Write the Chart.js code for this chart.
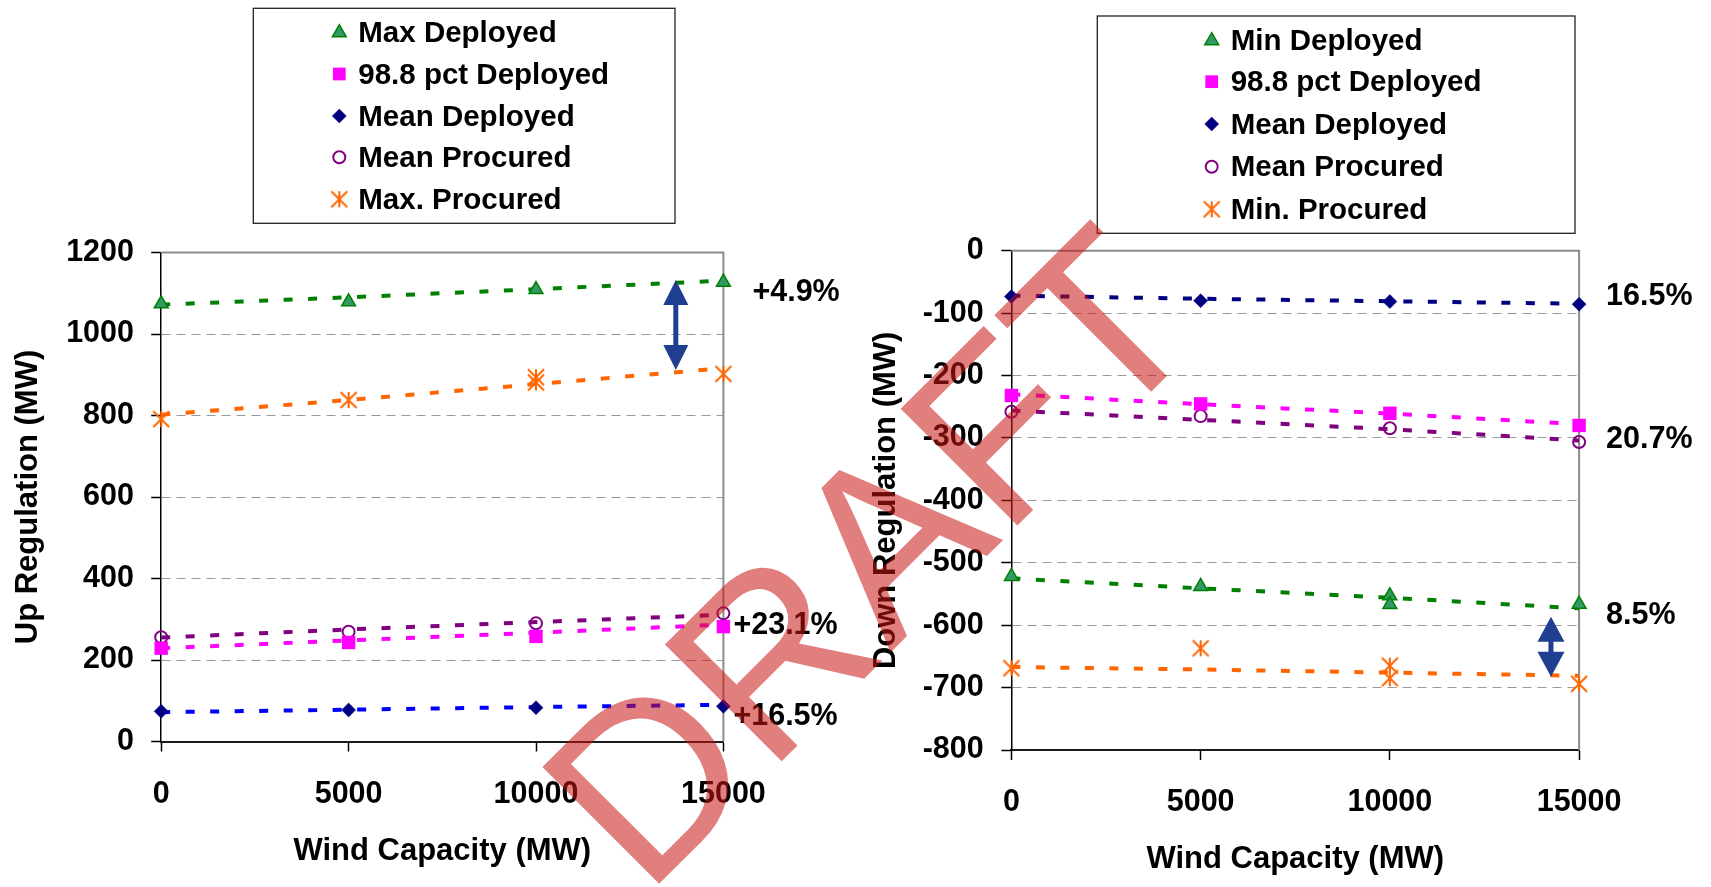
<!DOCTYPE html>
<html>
<head>
<meta charset="utf-8">
<title>Regulation requirements vs wind capacity</title>
<script src="https://cdn.jsdelivr.net/npm/chart.js@4.4.1/dist/chart.umd.min.js"></script>
<style>
  html, body { margin: 0; padding: 0; background: #fff; }
  #wrap { position: relative; width: 1711px; height: 887px; overflow: hidden; }
  #wrap canvas { position: absolute; left: 0; top: 0; }
</style>
</head>
<body>
<div id="wrap">
  <canvas id="upChart" width="1711" height="887"></canvas>
  <canvas id="downChart" width="1711" height="887"></canvas>
</div>
<script>
// ---- Wind capacity scenarios (MW) ----
const windCapacity = [0, 5000, 10000, 15000];
const xTickLabels = ['0', '5000', '10000', '15000'];

// ---- Up regulation (MW) ----
const upTicks = [0, 200, 400, 600, 800, 1000, 1200];
const upMaxDeployed = [1074, 1079, 1109, 1127];
const up988Deployed = [229, 243, 258, 282];
const upMeanDeployed = [74, 77.5, 83, 86.2];
const upMeanProcured = [256, 269.5, 290, 314.5];
const upMaxProcuredWind = [0, 5000, 10000, 10000, 15000];
const upMaxProcured = [791, 838, 894, 881, 902];
// dashed trend lines
const upMaxDeployedLine = [1072, 1090, 1110, 1131];
const upMaxProcuredLine = [802, 838, 877, 916];
const up988DeployedLine = [229, 248, 267, 287];
const upMeanProcuredLine = [255, 275, 293, 311];
const upMeanDeployedLine = [72, 78, 84.5, 90];
const upChangeLabels = ['+4.9%', '+23.1%', '+16.5%'];

// ---- Down regulation (MW) ----
const downTicks = [-800, -700, -600, -500, -400, -300, -200, -100, 0];
const downMinDeployedWind = [0, 5000, 10000, 10000, 15000];
const downMinDeployed = [-522, -538, -553, -567, -566.5];
const down988Deployed = [-232, -245.5, -260.5, -280];
const downMeanDeployed = [-73.5, -80, -81.5, -85.6];
const downMeanProcured = [-258, -265, -284.5, -306.5];
const downMinProcuredWind = [0, 5000, 10000, 10000, 15000];
const downMinProcured = [-669, -637, -665, -685, -694];
// dashed trend lines
const downMinDeployedLine = [-525, -541, -556, -573];
const downMinProcuredLine = [-667, -671, -676, -681];
const down988DeployedLine = [-230, -246, -261, -278];
const downMeanProcuredLine = [-256, -271, -286, -304];
const downMeanDeployedLine = [-72, -77, -81, -85];
const downChangeLabels = ['16.5%', '20.7%', '8.5%'];

// ---------------------------------------------------------------
const FONT = "'Liberation Sans', Arial, Helvetica, sans-serif";
Chart.defaults.font.family = FONT;
Chart.defaults.color = '#000';

const xy = (xs, ys) => ys.map((y, i) => ({ x: xs[i], y }));

// Six-armed asterisk marker (X plus a vertical bar)
function makeAsterisk(color, size, lw) {
  const c = document.createElement('canvas');
  c.width = c.height = size + 4;
  const g = c.getContext('2d');
  const m = c.width / 2, h = size / 2;
  g.strokeStyle = color;
  g.lineWidth = lw;
  g.beginPath();
  g.moveTo(m - h, m - h); g.lineTo(m + h, m + h);
  g.moveTo(m + h, m - h); g.lineTo(m - h, m + h);
  g.moveTo(m, m - h); g.lineTo(m, m + h);
  g.stroke();
  return c;
}
const asterisk = makeAsterisk('#FF6600', 16, 2);

const MARK = {
  triangle: { pointStyle: 'triangle', pointRadius: 8, pointBackgroundColor: '#339966', pointBorderColor: '#008000', pointBorderWidth: 1.5 },
  square:   { pointStyle: 'rect', pointRadius: 9.5, pointBackgroundColor: '#FF00FF', pointBorderColor: '#FF00FF', pointBorderWidth: 0 },
  diamond:  { pointStyle: 'rectRot', pointRadius: 7, pointBackgroundColor: '#000080', pointBorderColor: '#000080', pointBorderWidth: 0.5 },
  circle:   { pointStyle: 'circle', pointRadius: 6, pointBackgroundColor: 'rgba(0,0,0,0)', pointBorderColor: '#800080', pointBorderWidth: 2 },
  star:     { pointStyle: asterisk, pointRadius: 8, pointBackgroundColor: '#FF6600', pointBorderColor: '#FF6600', pointBorderWidth: 0 }
};

function markers(label, xs, ys, style) {
  return Object.assign({ label, data: xy(xs, ys), showLine: false, clip: false, borderColor: style.pointBorderColor, backgroundColor: style.pointBackgroundColor }, style);
}
function trend(ys, color) {
  return { label: '', data: xy(windCapacity, ys), showLine: true, pointRadius: 0, borderColor: color,
           borderWidth: 4, borderDash: [9, 15.5], clip: false, fill: false, tension: 0 };
}

// Marker glyph used inside the boxed legend
function drawGlyph(ctx, ds, x, y, r) {
  const st = ds.pointStyle;
  ctx.save();
  if (st instanceof HTMLCanvasElement) {
    ctx.drawImage(st, x - st.width / 2, y - st.height / 2);
    ctx.restore();
    return;
  }
  ctx.fillStyle = ds.pointBackgroundColor;
  ctx.strokeStyle = ds.pointBorderColor;
  ctx.lineWidth = ds.pointBorderWidth;
  ctx.beginPath();
  if (st === 'triangle') {
    ctx.moveTo(x, y - r);
    ctx.lineTo(x + r * Math.sin(2 * Math.PI / 3), y - r * Math.cos(2 * Math.PI / 3));
    ctx.lineTo(x + r * Math.sin(4 * Math.PI / 3), y - r * Math.cos(4 * Math.PI / 3));
    ctx.closePath();
  } else if (st === 'rect') {
    const s = r * Math.SQRT1_2;
    ctx.rect(x - s, y - s, 2 * s, 2 * s);
  } else if (st === 'rectRot') {
    ctx.moveTo(x, y - r); ctx.lineTo(x + r, y); ctx.lineTo(x, y + r); ctx.lineTo(x - r, y); ctx.closePath();
  } else {
    ctx.arc(x, y, r, 0, Math.PI * 2);
  }
  ctx.fill();
  if (ds.pointBorderWidth > 0) ctx.stroke();
  ctx.restore();
}

// Gray plot-area border on top and right edges
const framePlugin = {
  id: 'frame',
  beforeDatasetsDraw(chart) {
    const { ctx, chartArea: a } = chart;
    ctx.save();
    ctx.strokeStyle = '#8c8c8c';
    ctx.lineWidth = 2;
    ctx.beginPath();
    ctx.moveTo(a.left, a.top);
    ctx.lineTo(a.right, a.top);
    ctx.lineTo(a.right, a.bottom);
    ctx.stroke();
    ctx.restore();
  }
};

// Percent-change labels and the double-headed arrow
const notesPlugin = {
  id: 'notes',
  afterDatasetsDraw(chart, args, o) {
    const { ctx, chartArea: a, scales } = chart;
    ctx.save();
    ctx.fillStyle = '#000';
    ctx.font = `bold ${o.size}px ${FONT}`;
    ctx.textAlign = 'left';
    ctx.textBaseline = 'middle';
    o.labels.forEach((t, i) => {
      ctx.fillText(t, a.right + o.dx[i], scales.y.getPixelForValue(o.at[i]) + 3);
    });
    // arrow
    const ar = o.arrow;
    const x = scales.x.getPixelForValue(ar.x);
    const y1 = scales.y.getPixelForValue(ar.from);
    const y2 = scales.y.getPixelForValue(ar.to);
    ctx.fillStyle = '#203F90';
    ctx.beginPath();
    ctx.moveTo(x, y1); ctx.lineTo(x + ar.headW / 2, y1 + ar.headLen); ctx.lineTo(x - ar.headW / 2, y1 + ar.headLen); ctx.closePath();
    ctx.fill();
    ctx.beginPath();
    ctx.moveTo(x, y2); ctx.lineTo(x + ar.headW / 2, y2 - ar.headLen); ctx.lineTo(x - ar.headW / 2, y2 - ar.headLen); ctx.closePath();
    ctx.fill();
    ctx.fillRect(x - ar.shaft / 2, y1 + ar.headLen - 1, ar.shaft, (y2 - y1) - 2 * ar.headLen + 2);
    ctx.restore();
  }
};

// Boxed legend listing the marker series
const boxLegendPlugin = {
  id: 'boxLegend',
  afterDraw(chart, args, o) {
    const { ctx } = chart;
    ctx.save();
    ctx.fillStyle = '#fff';
    ctx.fillRect(o.box[0], o.box[1], o.box[2] - o.box[0], o.box[3] - o.box[1]);
    ctx.strokeStyle = '#222';
    ctx.lineWidth = 1.3;
    ctx.strokeRect(o.box[0], o.box[1], o.box[2] - o.box[0], o.box[3] - o.box[1]);
    ctx.font = `bold ${o.size}px ${FONT}`;
    ctx.fillStyle = '#000';
    ctx.textAlign = 'left';
    ctx.textBaseline = 'middle';
    o.items.forEach((idx, i) => {
      const ds = chart.data.datasets[idx];
      drawGlyph(ctx, ds, o.markerX, o.rows[i], o.radii[i]);
      ctx.fillStyle = '#000';
      ctx.fillText(ds.label, o.textX, o.rows[i] + 1.5);
    });
    ctx.restore();
  }
};

// DRAFT watermark across both panels
const watermarkPlugin = {
  id: 'watermark',
  afterDraw(chart) {
    const { ctx } = chart;
    ctx.save();
    ctx.translate(928, 615);
    ctx.rotate(-Math.PI / 4);
    ctx.font = `240px ${FONT}`;
    ctx.textAlign = 'center';
    ctx.textBaseline = 'alphabetic';
    ctx.fillStyle = 'rgba(200, 20, 20, 0.55)';
    ctx.fillText('DRAFT', 0, 0);
    ctx.restore();
  }
};

function buildScales(yTicks, yTitle, g) {
  return {
    x: {
      type: 'linear',
      min: windCapacity[0],
      max: windCapacity[windCapacity.length - 1],
      afterBuildTicks: s => { s.ticks = windCapacity.map(v => ({ value: v })); },
      afterFit: s => { s.height = g.xHeight; },
      ticks: {
        callback: v => xTickLabels[windCapacity.indexOf(v)],
        font: { size: 30.5, weight: 'bold' }, color: '#000',
        padding: g.xTickPad, maxRotation: 0, minRotation: 0, autoSkip: false
      },
      grid: { drawOnChartArea: false, drawTicks: true, tickLength: 10, tickColor: '#000', tickWidth: 1.5 },
      border: { display: true, color: '#1a1a1a', width: 2 },
      title: { display: true, text: 'Wind Capacity (MW)', color: '#000',
               font: { size: 31, weight: 'bold' }, padding: { top: 0, bottom: g.xTitlePad } }
    },
    y: {
      type: 'linear',
      min: Math.min(...yTicks),
      max: Math.max(...yTicks),
      afterBuildTicks: s => { s.ticks = yTicks.map(v => ({ value: v })); },
      afterFit: s => { s.width = g.yWidth; },
      ticks: {
        callback: v => String(v),
        font: { size: 30.5, weight: 'bold' }, color: '#000',
        padding: g.yTickPad, autoSkip: false
      },
      grid: { drawOnChartArea: true, drawTicks: true, tickLength: 10, tickColor: '#000', tickWidth: 1.5,
              color: '#9a9a9a', lineWidth: 1 },
      border: { display: true, color: '#000', width: 1.5, dash: [9, 6] },
      title: { display: true, text: yTitle, color: '#000',
               font: { size: 31, weight: 'bold' }, padding: { top: g.yTitlePad, bottom: 0 } }
    }
  };
}

const common = {
  responsive: false,
  animation: false,
  events: []
};

// ---- Up regulation panel ----
new Chart(document.getElementById('upChart'), {
  type: 'scatter',
  data: {
    datasets: [
      markers('Max Deployed', windCapacity, upMaxDeployed, MARK.triangle),
      markers('98.8 pct Deployed', windCapacity, up988Deployed, MARK.square),
      markers('Mean Deployed', windCapacity, upMeanDeployed, MARK.diamond),
      markers('Mean Procured', windCapacity, upMeanProcured, MARK.circle),
      markers('Max. Procured', upMaxProcuredWind, upMaxProcured, MARK.star),
      trend(upMaxDeployedLine, '#008000'),
      trend(upMaxProcuredLine, '#FF6600'),
      trend(up988DeployedLine, '#FF00FF'),
      trend(upMeanProcuredLine, '#800080'),
      trend(upMeanDeployedLine, '#0000FF')
    ]
  },
  options: Object.assign({}, common, {
    layout: { autoPadding: false, padding: { left: 0, top: 252.5, right: 987.6, bottom: 0 } },
    scales: buildScales(upTicks, 'Up Regulation (MW)',
      { xHeight: 145.5, xTickPad: 24.9, xTitlePad: 17.4, yWidth: 161.2, yTickPad: 17.2, yTitlePad: 9.7 }),
    plugins: {
      legend: { display: false },
      tooltip: { enabled: false },
      notes: {
        size: 30.5,
        labels: upChangeLabels,
        dx: [29, 10, 10],
        at: [1108, 293, 68.5],
        arrow: { x: 13730, from: 1132.5, to: 911.7, headLen: 25, headW: 25, shaft: 5 }
      },
      boxLegend: {
        box: [253.3, 8.3, 675, 223.3],
        size: 29.5,
        markerX: 339.3, textX: 358.3,
        rows: [32.7, 74, 116, 157.3, 199.3],
        radii: [8, 9, 7, 6, 8],
        items: [0, 1, 2, 3, 4]
      }
    }
  }),
  plugins: [framePlugin, notesPlugin, boxLegendPlugin]
});

// ---- Down regulation panel ----
new Chart(document.getElementById('downChart'), {
  type: 'scatter',
  data: {
    datasets: [
      markers('Min Deployed', downMinDeployedWind, downMinDeployed, MARK.triangle),
      markers('98.8 pct Deployed', windCapacity, down988Deployed, MARK.square),
      markers('Mean Deployed', windCapacity, downMeanDeployed, MARK.diamond),
      markers('Mean Procured', windCapacity, downMeanProcured, MARK.circle),
      markers('Min. Procured', downMinProcuredWind, downMinProcured, MARK.star),
      trend(downMinDeployedLine, '#008000'),
      trend(downMinProcuredLine, '#FF6600'),
      trend(down988DeployedLine, '#FF00FF'),
      trend(downMeanProcuredLine, '#800080'),
      trend(downMeanDeployedLine, '#000080')
    ]
  },
  options: Object.assign({}, common, {
    layout: { autoPadding: false, padding: { left: 860, top: 250.7, right: 131.9, bottom: 0 } },
    scales: buildScales(downTicks, 'Down Regulation (MW)',
      { xHeight: 137, xTickPad: 23.9, xTitlePad: 9.1, yWidth: 151.4, yTickPad: 17.7, yTitlePad: 7.4 }),
    plugins: {
      legend: { display: false },
      tooltip: { enabled: false },
      notes: {
        size: 30.5,
        labels: downChangeLabels,
        dx: [27, 27, 27],
        at: [-68.6, -297.7, -580.5],
        arrow: { x: 14257, from: -586.4, to: -682.5, headLen: 25, headW: 27, shaft: 5 }
      },
      boxLegend: {
        box: [1097.3, 16, 1575, 233.3],
        size: 29.5,
        markerX: 1211.7, textX: 1230.7,
        rows: [40.7, 81.7, 124, 166.7, 209.3],
        radii: [8, 9, 7, 6, 8],
        items: [0, 1, 2, 3, 4]
      }
    }
  }),
  plugins: [framePlugin, notesPlugin, boxLegendPlugin, watermarkPlugin]
});
</script>
</body>
</html>
